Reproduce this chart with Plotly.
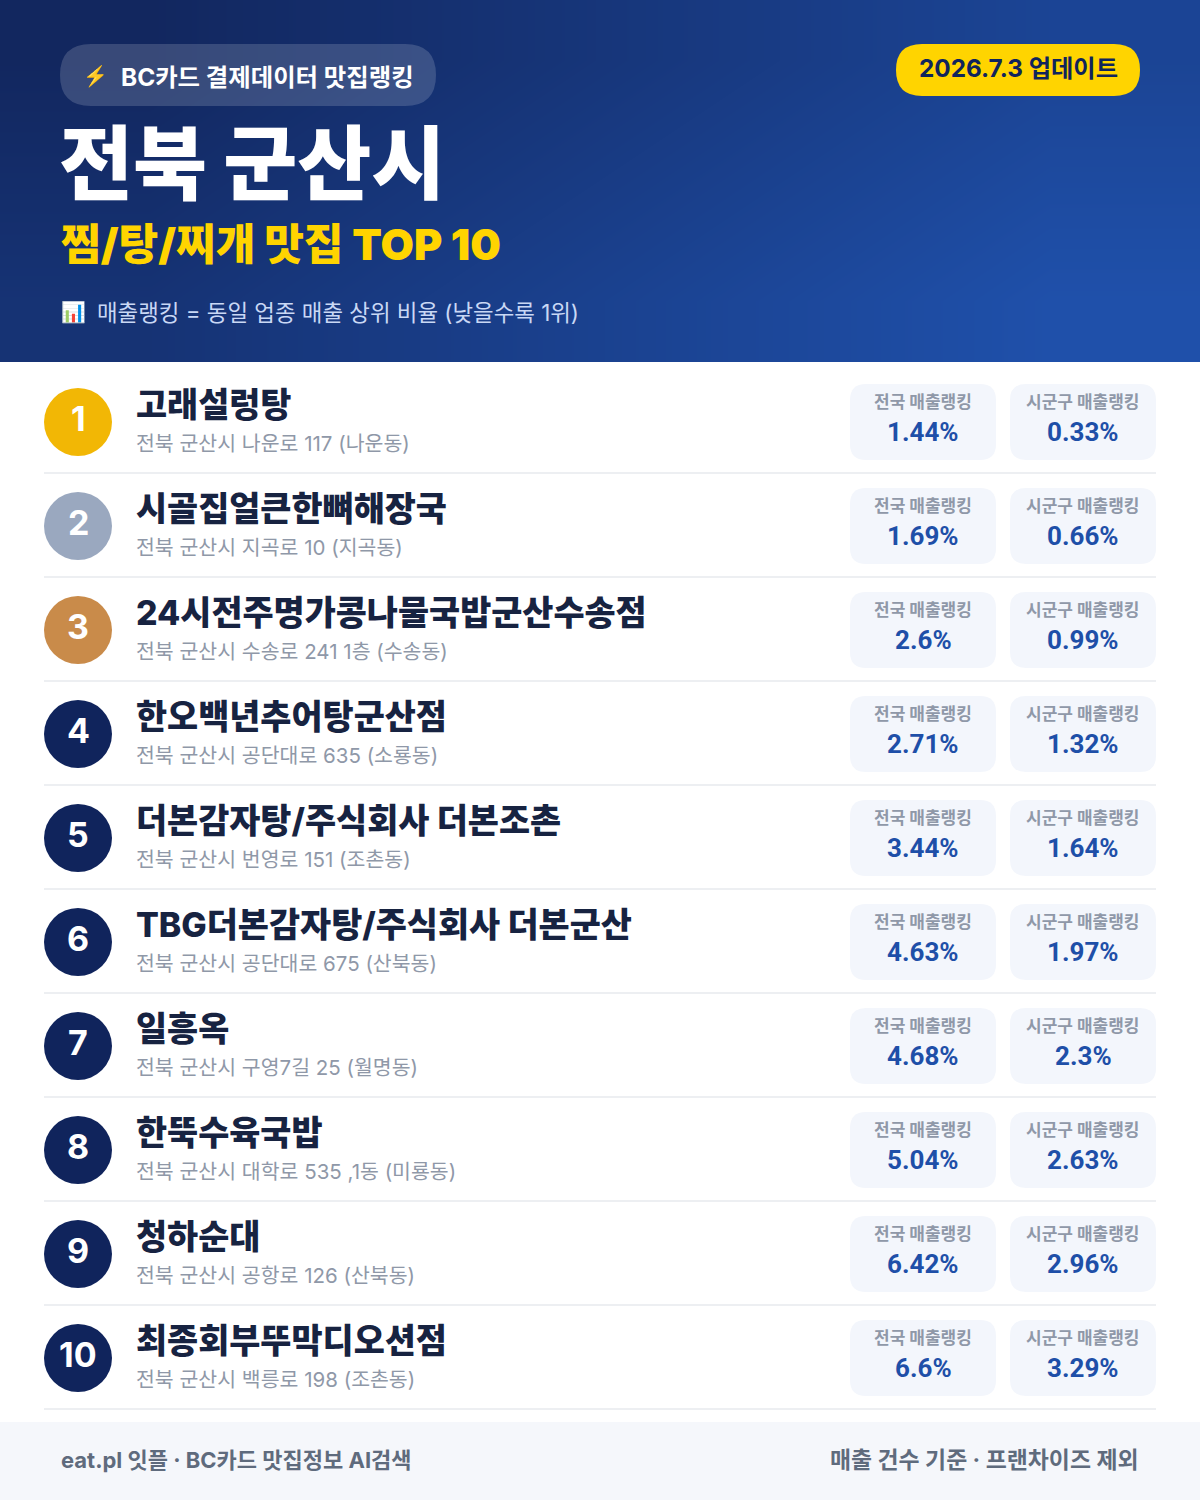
import plotly.graph_objects as go

FONT = "Inter, 'Noto Sans CJK KR'"

names = ["고래설렁탕", "시골집얼큰한뼈해장국", "24시전주명가콩나물국밥군산수송점", "한오백년추어탕군산점",
         "더본감자탕/주식회사 더본조촌", "TBG더본감자탕/주식회사 더본군산", "일흥옥", "한뚝수육국밥", "청하순대",
         "최종회부뚜막디오션점"]
addresses = ["전북 군산시 나운로 117 (나운동)", "전북 군산시 지곡로 10 (지곡동)", "전북 군산시 수송로 241 1층 (수송동)",
             "전북 군산시 공단대로 635 (소룡동)", "전북 군산시 번영로 151 (조촌동)", "전북 군산시 공단대로 675 (산북동)",
             "전북 군산시 구영7길 25 (월명동)", "전북 군산시 대학로 535 ,1동 (미룡동)", "전북 군산시 공항로 126 (산북동)",
             "전북 군산시 백릉로 198 (조촌동)"]
national = [1.44, 1.69, 2.6, 2.71, 3.44, 4.63, 4.68, 5.04, 6.42, 6.6]
district = [0.33, 0.66, 0.99, 1.32, 1.64, 1.97, 2.3, 2.63, 2.96, 3.29]
badge_colors = ["#f2b705", "#9aa8bf", "#c98b4a"]
NAVY = "#10245c"


def rounded(x0, y0, x1, y1, r):
    return (f"M{x0+r},{y0} L{x1-r},{y0} Q{x1},{y0} {x1},{y0+r} L{x1},{y1-r} Q{x1},{y1} {x1-r},{y1} "
            f"L{x0+r},{y1} Q{x0},{y1} {x0},{y1-r} L{x0},{y0+r} Q{x0},{y0} {x0+r},{y0} Z")


def label(fig, x, y, text, size, color, weight=400, anchor="left", family=FONT):
    fig.add_annotation(x=x, y=y, text=text, showarrow=False, xanchor=anchor, yanchor="middle",
                       xref="x", yref="y", borderpad=0,
                       font=dict(family=family, size=size, color=color, weight=weight))


fig = go.Figure()

# header gradient
gx = [0, 300, 600, 900, 1200]
gy = [0, 120, 240, 362]
fig.add_trace(go.Heatmap(x=gx, y=gy, z=[[a + b * 1.5 for a in gx[:-1]] for b in gy[:-1]], zsmooth="best",
                         showscale=False, hoverinfo="skip", colorscale=[[0, "#12275f"], [1, "#1f50aa"]]))

fig.add_shape(type="rect", x0=0, x1=1200, y0=1422, y1=1500, fillcolor="#f5f7fb", line_width=0)
fig.add_shape(type="path", path=rounded(60, 44, 436, 106, 31), fillcolor="rgba(255,255,255,0.16)", line_width=0)
fig.add_shape(type="path", path=rounded(896, 44, 1140, 96, 26), fillcolor="#ffd400", line_width=0)

label(fig, 82, 76, "⚡", 20, "#ffc83d")
label(fig, 120, 76.5, "BC카드 결제데이터 맛집랭킹", 24.4, "white", 700)
label(fig, 1018, 68, "2026.7.3 업데이트", 24.3, NAVY, 700, "center")
label(fig, 58, 163, "전북 군산시", 80.5, "white", 900)
label(fig, 60, 244, "찜/탕/찌개 맛집 TOP 10", 43.2, "#ffd400", 900)
label(fig, 60, 312, "📊", 20, "white")
label(fig, 96, 312, "매출랭킹 = 동일 업종 매출 상위 비율 (낮을수록 1위)", 22.4, "#c9d8f5")

for i, name in enumerate(names):
    dy = 104 * i
    fig.add_shape(type="line", x0=44, x1=1156, y0=473 + dy, y1=473 + dy, line=dict(color="#edeff2", width=2))
    color = badge_colors[i] if i < 3 else NAVY
    fig.add_shape(type="circle", x0=44, x1=112, y0=388 + dy, y1=456 + dy, fillcolor=color, line_width=0)
    label(fig, 78, 418 + dy, str(i + 1), 34, "white", 700, "center")
    label(fig, 135, 404 + dy, name, 33.8, "#172341", 800)
    label(fig, 135, 443.5 + dy, addresses[i], 20.5, "#8f98a8")
    for x0, title, val in [(850, "전국 매출랭킹", national[i]), (1010, "시군구 매출랭킹", district[i])]:
        fig.add_shape(type="path", path=rounded(x0, 384 + dy, x0 + 146, 460 + dy, 16),
                      fillcolor="#f3f6fc", line_width=0)
        label(fig, x0 + 73, 402 + dy, title, 17, "#8f98a8", 700, "center")
        label(fig, x0 + 73, 432 + dy, f"{val}%", 26, "#1e4fa8", 700, "center", "Roboto")

label(fig, 60, 1460, "eat.pl 잇플 · BC카드 맛집정보 AI검색", 22, "#5f6b7d", 700)
label(fig, 1140, 1460, "매출 건수 기준 · 프랜차이즈 제외", 22.9, "#5f6b7d", 700, "right")

fig.update_layout(width=1200, height=1500, margin=dict(l=0, r=0, t=0, b=0), paper_bgcolor="white",
                  plot_bgcolor="white", showlegend=False,
                  xaxis=dict(range=[0, 1200], visible=False, fixedrange=True),
                  yaxis=dict(range=[1500, 0], visible=False, fixedrange=True))

fig.write_html("out.html", config={"displayModeBar": False}, post_script="document.body.style.margin='0';")
